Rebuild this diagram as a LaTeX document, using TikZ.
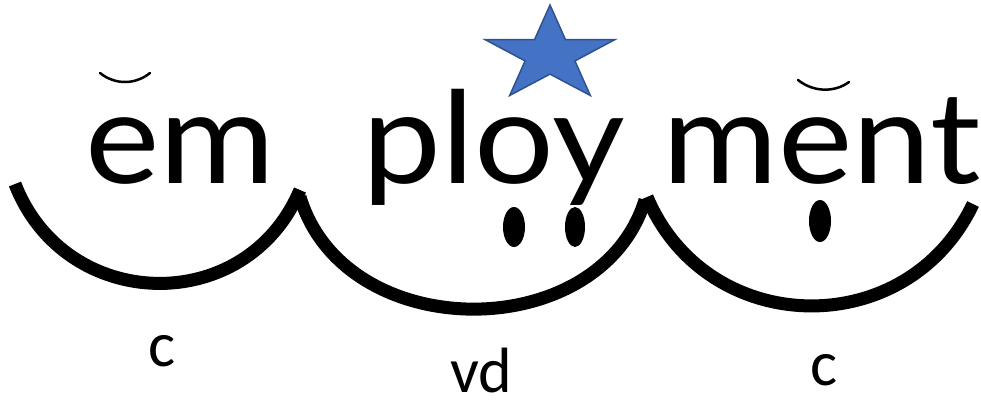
\documentclass[tikz,border=0pt]{standalone}
\usepackage{fontspec}
\setmainfont{Lato}
\newfontfamily\wordfont[FakeStretch=1.1]{Lato}
\newfontfamily\labelfont{Carlito}
\definecolor{starfill}{HTML}{4472C4}
\definecolor{stardraw}{HTML}{2F528F}
\begin{document}
\begin{tikzpicture}[x=1pt,y=-1pt,
  arcline/.style={line width=13pt, line cap=butt},
  word/.style={anchor=base west, inner sep=0pt, font=\wordfont\fontsize{128}{130}\selectfont},
  lab/.style={anchor=base west, inner sep=0pt, text depth=0pt, font=\labelfont\fontsize{64}{66}\selectfont},
  dotmark/.style={fill=black},
  brevemark/.style={line width=2.5pt, line cap=round},
  starmark/.style={fill=starfill, draw=stardraw, line width=1.5pt, line join=miter}
]
\path[use as bounding box] (0,0) rectangle (981,400);
% words
\node[word] (em) at (85,183) {em};
\node[word] (ploy) at (362,183) {ploy};
\node[word] (ment) at (662,183) {ment};
% labels
\node[lab] (c1) at (148,366) {c};
\node[lab] (vd) at (450,392) {vd};
\node[lab] (c3) at (810,385) {c};
% breves
\draw[brevemark] (100,73) .. controls (115,85) and (135,85) .. (150,73);
\draw[brevemark] (798,80) .. controls (813,92) and (834,93) .. (849,82);
% star
\path[starmark] (550,5) -- (565.4,39.5) -- (615.1,39.5) -- (574.9,60.9) -- (590.3,95.45) -- (550,74.1) -- (509.7,95.45) -- (525.1,60.9) -- (484.9,39.5) -- (534.6,39.5) -- cycle;
% arcs
\draw[arcline] (15,184) .. controls (65,313) and (246,318) .. (300,190);
\draw[arcline] (300,197) .. controls (345,346) and (600,346) .. (645,200);
\draw[arcline] (647,197) .. controls (707,339) and (907,343) .. (973,204);
% dots
\fill[dotmark] (514,227) ellipse [x radius=11, y radius=20];
\fill[dotmark] (575,227) ellipse [x radius=10, y radius=20];
\fill[dotmark] (820,221) ellipse [x radius=11, y radius=21];
\end{tikzpicture}
\end{document}
